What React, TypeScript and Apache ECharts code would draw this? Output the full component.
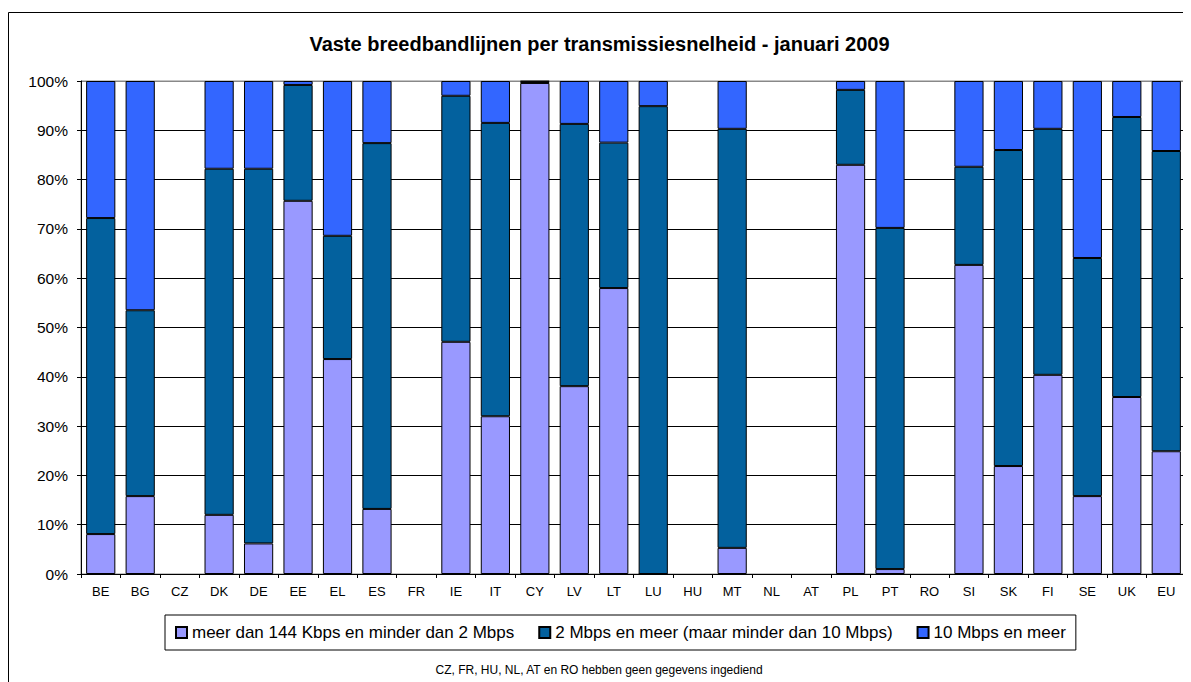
import React, { useEffect, useRef } from "react";
import * as echarts from "echarts";

const categories = ["BE","BG","CZ","DK","DE","EE","EL","ES","FR","IE","IT","CY","LV","LT","LU","HU","MT","NL","AT","PL","PT","RO","SI","SK","FI","SE","UK","EU"];

// percentages; null = no data
const low: (number | null)[] = [8.1,15.8,null,12.0,6.2,75.7,43.6,13.2,null,47.1,32.0,99.6,38.1,58.0,0,null,5.3,null,null,83.0,1.0,null,62.7,21.9,40.4,15.8,35.9,24.9];
const mid: (number | null)[] = [64.1,37.7,null,70.2,76.0,23.5,25.0,74.2,null,49.9,59.5,0.3,53.2,29.5,94.9,null,85.0,null,null,15.2,69.2,null,19.9,64.1,49.9,48.3,56.8,60.9];
const high: (number | null)[] = [27.8,46.5,null,17.8,17.8,0.8,31.4,12.6,null,3.0,8.5,0.1,8.7,12.5,5.1,null,9.7,null,null,1.8,29.8,null,17.4,14.0,9.7,35.9,7.3,14.2];

const seriesNames = [
  "meer dan 144 Kbps en minder dan 2 Mbps",
  "2 Mbps en meer (maar minder dan 10 Mbps)",
  "10 Mbps en meer",
];
const colors = ["#9999FF", "#03619E", "#3366FF"];

export default function App() {
  const ref = useRef<HTMLDivElement>(null);
  useEffect(() => {
    if (!ref.current) return;
    const chart = echarts.init(ref.current, undefined, { renderer: "svg" });
    const font = "Arial, 'Liberation Sans', sans-serif";
    const data = [low, mid, high];
    chart.setOption({
      animation: false,
      textStyle: { fontFamily: font },
      title: {
        text: "Vaste breedbandlijnen per transmissiesnelheid - januari 2009",
        left: "center",
        top: 21,
        textStyle: { fontFamily: font, fontSize: 20, fontWeight: "bold", color: "#000" },
      },
      grid: {
        left: 73, right: 5, top: 73, height: 493,
        show: true, borderColor: "#888", borderWidth: 1,
      },
      legend: {
        top: 607,
        left: 157,
        itemWidth: 11,
        itemHeight: 11,
        itemGap: 24,
        padding: [9, 10, 9, 10],
        borderColor: "#000",
        borderWidth: 1,
        borderRadius: 0,
        icon: "rect",
        textStyle: { fontFamily: font, fontSize: 17, color: "#000" },
        data: seriesNames,
      },
      xAxis: {
        type: "category",
        data: categories,
        axisLine: { lineStyle: { color: "#000" } },
        axisTick: { show: true, length: 4, lineStyle: { color: "#000" } },
        axisLabel: { color: "#000", fontSize: 13, margin: 11, interval: 0, fontFamily: font },
      },
      yAxis: {
        type: "value",
        min: 0,
        max: 100,
        interval: 10,
        axisLine: { show: true, lineStyle: { color: "#000" } },
        axisTick: { show: true, length: 4, lineStyle: { color: "#000" } },
        axisLabel: { color: "#000", fontSize: 15.5, margin: 13, formatter: "{value}%", fontFamily: font },
        splitLine: {
          show: true,
          lineStyle: { color: ["#000","#000","#000","#000","#000","#000","#000","#000","#000","#000","#888"], width: 1 },
        },
      },
      series: data.map((d, i) => ({
        name: seriesNames[i],
        type: "bar",
        stack: "total",
        data: d,
        barCategoryGap: "26%",
        itemStyle: { color: colors[i], borderColor: "#000", borderWidth: 1 },
      })),
      graphic: [
        {
          type: "rect",
          shape: { x: 0.5, y: 4.5, width: 1300, height: 800 },
          style: { fill: "none", stroke: "#000", lineWidth: 1 },
          silent: true,
        },
        {
          type: "text",
          left: "center",
          top: 656,
          style: {
            text: "CZ, FR, HU, NL, AT en RO hebben geen gegevens ingediend",
            fontSize: 12,
            fontFamily: font,
            fill: "#000",
          },
        },
      ],
    });
    return () => chart.dispose();
  }, []);
  return <div ref={ref} style={{ width: 1183, height: 674 }} />;
}
